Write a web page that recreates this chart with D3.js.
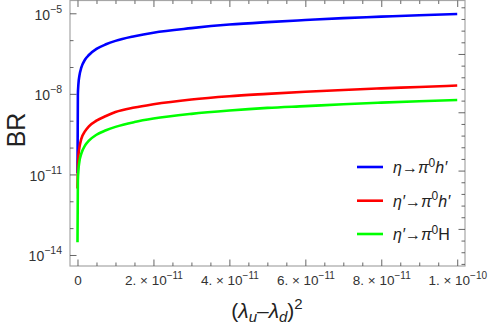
<!DOCTYPE html>
<html>
<head>
<meta charset="utf-8">
<script src="https://cdn.jsdelivr.net/npm/d3@7"></script>
<style>
  body { margin: 0; background: #fff; }
  text { font-family: "Liberation Sans", Arial, sans-serif; }
</style>
</head>
<body>
<div id="canvas"></div>
<script>
"use strict"

// (lambda_u - lambda_d)^2 sample points
let xValues = [1e-15, 1e-13, 2.5e-13, 5e-13, 1e-12, 2e-12, 3e-12, 5e-12, 7.5e-12, 1e-11,
               1.5e-11, 2e-11, 3e-11, 4e-11, 5e-11, 6e-11, 7e-11, 8e-11, 9e-11, 1e-10];

// branching ratios
let brEtaH = [1.1e-11, 9.4e-9, 2.4e-8, 4.7e-8, 9.4e-8, 1.9e-7, 2.8e-7, 4.7e-7, 7.0e-7, 9.4e-7,
              1.4e-6, 1.9e-6, 2.8e-6, 3.8e-6, 4.7e-6, 5.6e-6, 6.6e-6, 7.5e-6, 8.5e-6, 9.4e-6];
let brEtaPrimeH = [3e-12, 2.1e-11, 5.1e-11, 1.0e-10, 2.1e-10, 4.1e-10, 6.2e-10, 1.0e-9, 1.5e-9, 2.1e-9,
                   3.1e-9, 4.1e-9, 6.2e-9, 8.2e-9, 1.0e-8, 1.2e-8, 1.4e-8, 1.6e-8, 1.8e-8, 2.05e-8];
let brEtaPrimeBigH = [3e-14, 5.9e-12, 1.5e-11, 3.0e-11, 5.9e-11, 1.2e-10, 1.8e-10, 3.0e-10, 4.4e-10, 5.9e-10,
                      8.9e-10, 1.2e-9, 1.8e-9, 2.4e-9, 3.0e-9, 3.5e-9, 4.1e-9, 4.7e-9, 5.3e-9, 5.9e-9];

let seriesNames = ["eta", "etaPrime", "etaPrimeH"];

// tick values
let xMajorTicks = [0, 2e-11, 4e-11, 6e-11, 8e-11, 1e-10];
let xMinorTicks = [5e-12, 1e-11, 1.5e-11, 2.5e-11, 3e-11, 3.5e-11, 4.5e-11, 5e-11, 5.5e-11,
                   6.5e-11, 7e-11, 7.5e-11, 8.5e-11, 9e-11, 9.5e-11];
let xMajorLabels = [["0", ""], ["2. \u00d7 10", "\u221211"], ["4. \u00d7 10", "\u221211"], ["6. \u00d7 10", "\u221211"], ["8. \u00d7 10", "\u221211"], ["1. \u00d7 10", "\u221210"]];
let yMajorExponents = [-5, -8, -11, -14];
let yMinorExponents = [-6, -7, -9, -10, -12, -13];
let rightLnTicks = d3.range(-33, -10); // right frame ticks sit at whole natural-log values

let width = 491;
let height = 327;
let plotLeft = 70, plotRight = 465, plotTop = 0.5, plotBottom = 266;

let svg = d3.select("#canvas")
    .append("svg")
    .attr("width", width)
    .attr("height", height);

let x = d3.scaleLinear()
    .domain([-0.01975e-10, 1.0205e-10])
    .range([plotLeft, plotRight]);

let y = d3.scaleLog()
    .domain([Math.pow(10, -14.41), Math.pow(10, -4.505)])
    .range([plotBottom, 0]);

let frameColor = "#a6a6a6";
let tickColor = "#555";
let textColor = "#333";

// frame
svg.append("rect")
    .attr("x", plotLeft)
    .attr("y", plotTop)
    .attr("width", plotRight - plotLeft)
    .attr("height", plotBottom - plotTop)
    .attr("fill", "none")
    .attr("stroke", frameColor)
    .attr("stroke-width", 1.2);

function styleAxis(g) {
    g.select(".domain").remove();
    g.selectAll(".tick line").attr("stroke", tickColor).attr("stroke-width", 0.9);
}

let bottomMinor = svg.append("g")
    .attr("transform", "translate(0," + plotBottom + ")")
    .call(d3.axisBottom(x).tickValues(xMinorTicks).tickSize(-3.5).tickFormat(""));
styleAxis(bottomMinor);

let bottomMajor = svg.append("g")
    .attr("transform", "translate(0," + plotBottom + ")")
    .call(d3.axisBottom(x).tickValues(xMajorTicks).tickSize(-6.5).tickFormat(""));
styleAxis(bottomMajor);

bottomMajor.selectAll(".tick").each(function(d, i) {
    let t = d3.select(this).append("text")
        .attr("y", 14)
        .attr("dy", "0.35em")
        .attr("text-anchor", "middle")
        .style("font-size", "13.5px")
        .attr("fill", textColor);
    t.append("tspan").text(xMajorLabels[i][0]);
    if (xMajorLabels[i][1]) {
        t.append("tspan").attr("dy", -5.5).style("font-size", "10px").text(xMajorLabels[i][1]);
    }
});

let topMinor = svg.append("g")
    .attr("transform", "translate(0," + plotTop + ")")
    .call(d3.axisTop(x).tickValues(xMinorTicks).tickSize(-3.5).tickFormat(""));
styleAxis(topMinor);

let topMajor = svg.append("g")
    .attr("transform", "translate(0," + plotTop + ")")
    .call(d3.axisTop(x).tickValues(xMajorTicks).tickSize(-6.5).tickFormat(""));
styleAxis(topMajor);

// y axis left
let leftMinor = svg.append("g")
    .attr("transform", "translate(" + plotLeft + ",0)")
    .call(d3.axisLeft(y).tickValues(yMinorExponents.map(e => Math.pow(10, e))).tickSize(-3.5).tickFormat(""));
styleAxis(leftMinor);

let leftMajor = svg.append("g")
    .attr("transform", "translate(" + plotLeft + ",0)")
    .call(d3.axisLeft(y).tickValues(yMajorExponents.map(e => Math.pow(10, e))).tickSize(-6.5).tickFormat(""));
styleAxis(leftMajor);

leftMajor.selectAll(".tick").each(function(d, i) {
    let t = d3.select(this).append("text")
        .attr("x", -8)
        .attr("y", 6)
        .attr("text-anchor", "end")
        .style("font-size", "14px")
        .attr("fill", textColor);
    t.append("tspan").text("10");
    t.append("tspan").attr("dy", -7).style("font-size", "10.5px").text("\u2212" + String(-yMajorExponents[i]));
});

// right frame ticks (natural log spacing, longer every 5)
let rightMinor = svg.append("g")
    .attr("transform", "translate(" + plotRight + ",0)")
    .call(d3.axisRight(y).tickValues(rightLnTicks.filter(d => d % 5 !== 0).map(d => Math.exp(d))).tickSize(-3.5).tickFormat(""));
styleAxis(rightMinor);

let rightMajor = svg.append("g")
    .attr("transform", "translate(" + plotRight + ",0)")
    .call(d3.axisRight(y).tickValues(rightLnTicks.filter(d => d % 5 === 0).map(d => Math.exp(d))).tickSize(-6.5).tickFormat(""));
styleAxis(rightMajor);

// curves
svg.append("clipPath")
    .attr("id", "plotClip")
    .append("rect")
    .attr("x", plotLeft)
    .attr("y", plotTop)
    .attr("width", plotRight - plotLeft)
    .attr("height", plotBottom - plotTop);

let line = d3.line()
    .x(d => x(d[0]))
    .y(d => y(d[1]))
    .curve(d3.curveMonotoneX);

let seriesValues = [brEtaH, brEtaPrimeH, brEtaPrimeBigH];
let seriesColors = ["#0000ff", "#ff0000", "#00ff00"];

seriesValues.forEach(function(vals, i) {
    svg.append("path")
        .attr("class", seriesNames[i])
        .attr("d", line(xValues.map((xv, j) => [xv, vals[j]])))
        .attr("fill", "none")
        .attr("stroke", seriesColors[i])
        .attr("stroke-width", 2.6)
        .attr("clip-path", "url(#plotClip)");
});

// axis titles
svg.append("text")
    .attr("transform", "translate(25,130) rotate(-90)")
    .attr("text-anchor", "middle")
    .style("font-size", "25px")
    .attr("fill", "#222")
    .text("BR");

let xTitle = svg.append("text")
    .attr("x", 267)
    .attr("y", 318)
    .attr("text-anchor", "middle")
    .style("font-size", "21px")
    .attr("fill", "#222");
xTitle.append("tspan").text("(");
xTitle.append("tspan").attr("font-style", "italic").text("\u03bb");
xTitle.append("tspan").attr("font-style", "italic").style("font-size", "15px").attr("dy", 4).text("u");
xTitle.append("tspan").attr("dy", -4).text("\u2013");
xTitle.append("tspan").attr("font-style", "italic").text("\u03bb");
xTitle.append("tspan").attr("font-style", "italic").style("font-size", "15px").attr("dy", 4).text("d");
xTitle.append("tspan").attr("dy", -4).text(")");
xTitle.append("tspan").style("font-size", "15px").attr("dy", -9).text("2");

// legend
let legendY = [167, 200.7, 234];
let legendParts = [
    [["\u03b7", true], ["\u2192", false], ["\u03c0", true], ["0", "sup"], ["h\u2032", true]],
    [["\u03b7\u2032", true], ["\u2192", false], ["\u03c0", true], ["0", "sup"], ["h\u2032", true]],
    [["\u03b7\u2032", true], ["\u2192", false], ["\u03c0", true], ["0", "sup"], ["H", false]]
];

legendParts.forEach(function(parts, i) {
    svg.append("line")
        .attr("x1", 357)
        .attr("x2", 383)
        .attr("y1", legendY[i])
        .attr("y2", legendY[i])
        .attr("stroke", seriesColors[i])
        .attr("stroke-width", 2.6);
    let t = svg.append("text")
        .attr("x", 393)
        .attr("y", legendY[i] + 6)
        .style("font-size", "16px")
        .attr("fill", "#222");
    let raised = false;
    parts.forEach(function(p) {
        let s = t.append("tspan").text(p[0]);
        if (p[1] === "sup") {
            s.style("font-size", "12px").attr("dy", -6.5);
            raised = true;
        } else {
            if (raised) { s.attr("dy", 6.5); raised = false; }
            if (p[1] === true) s.attr("font-style", "italic");
        }
    });
});
</script>
</body>
</html>
